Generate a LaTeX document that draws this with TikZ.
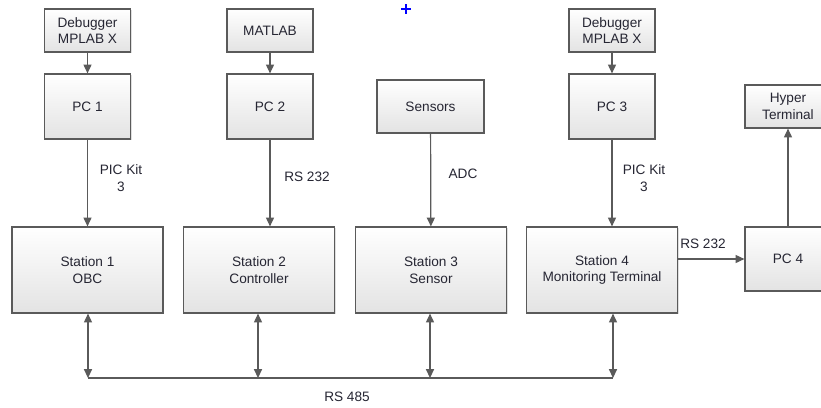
\documentclass[tikz,border=0pt]{standalone}
\usepackage{fontspec}
\setmainfont{Liberation Sans}
\usetikzlibrary{arrows.meta,shadows,positioning}

\definecolor{edge}{HTML}{5A5A5A}
\definecolor{ink}{HTML}{262633}

\tikzset{
  blk/.style={draw=edge, line width=0.3mm, top color=white, bottom color=black!11,
    drop shadow={shadow xshift=0.35mm, shadow yshift=-0.35mm, opacity=0.25},
    align=center, text=ink, inner sep=0pt},
  srcbox/.style={blk, minimum width=21.5mm, minimum height=10.75mm},
  pcbox/.style={blk, minimum width=21.5mm, minimum height=16.25mm},
  stbox/.style={blk, minimum width=37.75mm, minimum height=21.5mm},
  lbl/.style={text=ink, align=center, inner sep=0pt},
  wire/.style={draw=edge, line width=0.3mm},
  link/.style={wire, -{Triangle[length=2.2mm,width=2mm]}},
  duplex/.style={wire, {Triangle[length=2.2mm,width=2mm]}-{Triangle[length=2.2mm,width=2mm]}},
}

\begin{document}
\begin{tikzpicture}[x=0.25mm, y=-0.25mm, font=\fontsize{9.7}{12}\selectfont]
  \clip (0,0) rectangle (821,407);
  \fill[white] (0,0) rectangle (821,407);

  % sources
  \node[srcbox] (dbgA) at (87.5,30.5) {Debugger\\MPLAB X};
  \node[srcbox] (matlab) at (270,30.5) {MATLAB};
  \node[srcbox] (dbgC) at (612,30.5) {Debugger\\MPLAB X};

  % computers
  \node[pcbox] (pcA) at (87.5,106.5) {PC 1};
  \node[pcbox] (pcB) at (270,106.5) {PC 2};
  \node[blk, minimum width=26.75mm, minimum height=13.25mm] (sens) at (430.5,106.5) {Sensors};
  \node[pcbox] (pcC) at (612,106.5) {PC 3};
  \node[srcbox] (hyper) at (788,106.5) {Hyper\\Terminal};

  % stations
  \node[stbox] (stA) at (87.5,270) {Station 1\\OBC};
  \node[stbox] (stB) at (259,270) {Station 2\\Controller};
  \node[stbox] (stC) at (431,270) {Station 3\\Sensor};
  \node[stbox] (stD) at (602,270) {Station 4\\Monitoring Terminal};
  \node[pcbox, minimum height=16mm] (pcD) at (788,259) {PC 4};

  % links between levels
  \draw[link] (dbgA) -- (pcA);
  \draw[link] (matlab) -- (pcB);
  \draw[link] (dbgC) -- (pcC);
  \draw[link] (pcA) -- (stA);
  \draw[link] (pcB.south) -- (pcB.south |- stB.north);
  \draw[link] (sens) -- (stC);
  \draw[link] (pcC.south) -- (pcC.south |- stD.north);
  \draw[link] (stD.east |- pcD.west) -- (pcD.west);
  \draw[link] (pcD) -- (hyper);

  \node[lbl] (kitA) at (121,178) {PIC Kit\\3};
  \node[lbl] (serB) at (307,177) {RS 232};
  \node[lbl] (adc) at (463,174) {ADC};
  \node[lbl] (kitC) at (644,178) {PIC Kit\\3};
  \node[lbl] (serD) at (703,244) {RS 232};

  % RS 485 bus
  \coordinate (tapA) at (88,378);
  \coordinate (tapB) at (258,378);
  \coordinate (tapC) at (430,378);
  \coordinate (tapD) at (613,378);
  \draw[wire] (tapA) -- (tapD);
  \foreach \st/\tap in {stA/tapA, stB/tapB, stC/tapC, stD/tapD}
    \draw[duplex] (\st.south -| \tap) -- (\tap);
  \node[lbl] (bus) at (347,397) {RS 485};

  % marker
  \draw[blue, line width=0.3mm] (401,9) -- (411,9) (406,4) -- (406,14);
\end{tikzpicture}
\end{document}
